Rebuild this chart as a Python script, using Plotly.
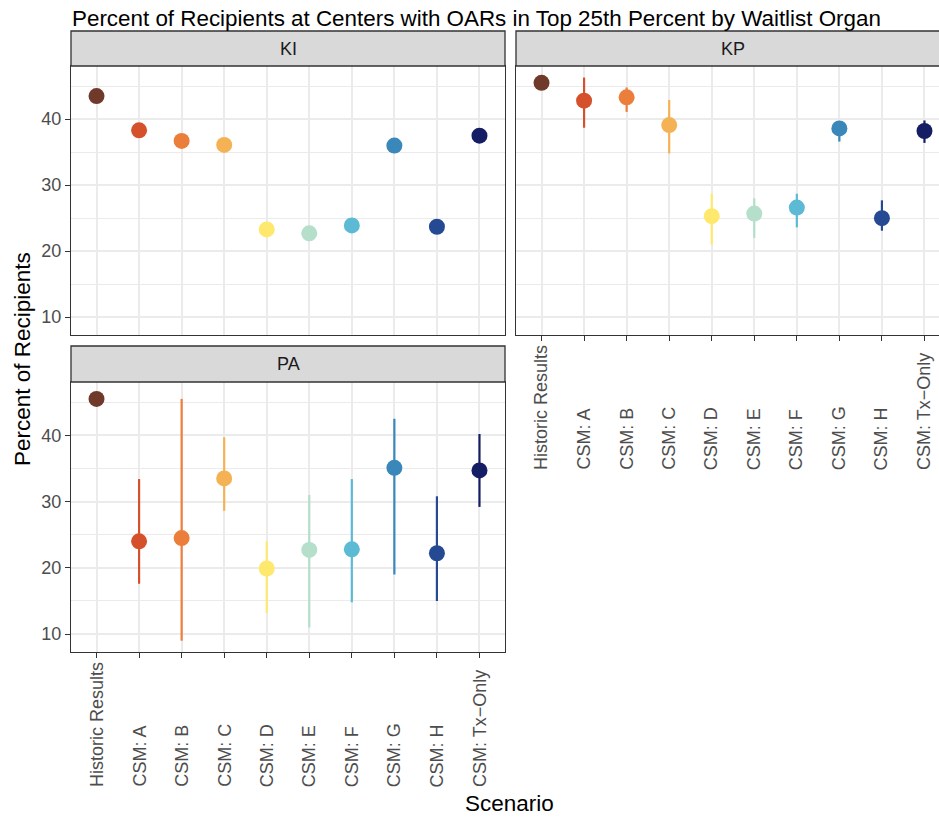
import plotly.graph_objects as go

# Scenarios on the x axis (same order in every panel)
scenarios = ["Historic Results", "CSM: A", "CSM: B", "CSM: C", "CSM: D",
             "CSM: E", "CSM: F", "CSM: G", "CSM: H", "CSM: Tx\u2212Only"]

scenario_colors = ["#6F3A2A", "#D4512B", "#EC7E3C", "#F5B255", "#FEE86D",
                   "#B5DECB", "#5CBAD4", "#3A87B9", "#254A93", "#151E64"]

# Percent of recipients (point estimate, lower and upper interval bound)
ki_pct = [43.5, 38.3, 36.7, 36.1, 23.3, 22.7, 23.9, 36.0, 23.7, 37.5]
ki_lo  = [43.5, 38.0, 36.4, 35.8, 23.0, 22.4, 23.6, 35.7, 23.4, 37.2]
ki_hi  = [43.5, 38.6, 37.0, 36.4, 23.6, 23.0, 24.2, 36.3, 24.0, 37.8]

kp_pct = [45.5, 42.8, 43.3, 39.1, 25.3, 25.7, 26.6, 38.6, 25.0, 38.2]
kp_lo  = [45.5, 38.7, 41.1, 34.8, 21.0, 22.0, 23.6, 36.6, 23.1, 36.4]
kp_hi  = [45.5, 46.3, 44.8, 42.9, 28.7, 28.0, 28.7, 39.3, 27.7, 39.8]

pa_pct = [45.5, 24.0, 24.5, 33.5, 19.9, 22.7, 22.8, 35.1, 22.2, 34.7]
pa_lo  = [45.5, 17.6,  9.0, 28.6, 13.2, 11.0, 14.8, 19.0, 15.0, 29.2]
pa_hi  = [45.5, 33.4, 45.5, 39.7, 24.0, 31.0, 33.4, 42.5, 30.8, 40.2]

y_ticks = [10, 20, 30, 40]

W, H = 939, 819
FONT = "Liberation Sans, Arial, Helvetica, sans-serif"


def px_x(p):
    return p / W


def px_y(p):
    return 1 - p / H


panels = [
    # name, values, lo, hi, xaxis, yaxis
    ("KI", ki_pct, ki_lo, ki_hi, "x", "y"),
    ("KP", kp_pct, kp_lo, kp_hi, "x2", "y2"),
    ("PA", pa_pct, pa_lo, pa_hi, "x3", "y3"),
]

fig = go.Figure()
for name, vals, lo, hi, xa, ya in panels:
    for i, sc in enumerate(scenarios):
        has_bar = hi[i] != lo[i]
        fig.add_trace(go.Scatter(
            x=[i], y=[vals[i]], xaxis=xa, yaxis=ya, mode="markers",
            marker=dict(size=16, color=scenario_colors[i], line=dict(width=0)),
            error_y=dict(type="data", symmetric=False,
                         array=[hi[i] - vals[i]], arrayminus=[vals[i] - lo[i]],
                         color=scenario_colors[i], thickness=2.2, width=0,
                         visible=has_bar),
            showlegend=False, hoverinfo="skip", cliponaxis=False,
        ))

# panel geometry (pixels)
left_x = (71, 505)
right_x = (516, 939)
top_y = (66, 335)
bot_y = (382, 652)
unit = (left_x[1] - left_x[0]) / 10.2
yr = [7.3, 48.05]

grid = "#EBEBEB"
border = "#333333"
tick_font = dict(family=FONT, size=18, color="#4D4D4D")

common_x = dict(type="linear", tickvals=list(range(len(scenarios))),
                showgrid=True, gridcolor=grid, gridwidth=1.6,
                zeroline=False, linecolor=border, linewidth=1.3,
                showticklabels=False,
                ticklen=5, tickcolor=border, tickwidth=1.2)
common_y = dict(range=yr, tickvals=y_ticks, showgrid=True, gridcolor=grid,
                gridwidth=1.6, zeroline=False, linecolor=border, linewidth=1.3,
                minor=dict(tick0=5, dtick=10, showgrid=True, gridcolor=grid,
                           gridwidth=0.8, ticks=""),
                tickfont=tick_font,
                ticklen=5, tickcolor=border, tickwidth=1.2)

fig.update_layout(
    width=W, height=H, margin=dict(l=0, r=0, t=0, b=0),
    paper_bgcolor="white", plot_bgcolor="white",
    xaxis=dict(common_x, domain=[px_x(left_x[0]), px_x(left_x[1])],
               range=[-0.6, 9.6], anchor="y", showline=True, mirror=True,
               ticks=""),
    yaxis=dict(common_y, domain=[px_y(top_y[1]), px_y(top_y[0])], anchor="x",
               showline=True, mirror=True, ticks="outside"),
    xaxis2=dict(common_x, domain=[px_x(right_x[0]), 1],
                range=[-0.6, -0.6 + (right_x[1] - right_x[0]) / unit],
                anchor="y2", showline=True, mirror=True, ticks="outside"),
    yaxis2=dict(common_y, domain=[px_y(top_y[1]), px_y(top_y[0])], anchor="x2",
                showline=True, mirror=False, showticklabels=False, ticks=""),
    xaxis3=dict(common_x, domain=[px_x(left_x[0]), px_x(left_x[1])],
                range=[-0.6, 9.6], anchor="y3", showline=True, mirror=True,
                ticks="outside"),
    yaxis3=dict(common_y, domain=[px_y(bot_y[1]), px_y(bot_y[0])], anchor="x3",
                showline=True, mirror=True, ticks="outside"),
)

# rotated scenario labels, bottom-justified under the bottom panels
for xref, bottom in (("x2", 472), ("x3", 789)):
    for i, sc in enumerate(scenarios):
        fig.add_annotation(text=sc, xref=xref, yref="paper", x=i,
                           y=px_y(bottom), textangle=-90,
                           xanchor="center", yanchor="bottom", showarrow=False,
                           font=tick_font)

# facet strips
strips = [("KI", left_x, (31, 66)), ("KP", (right_x[0], 960), (31, 66)),
          ("PA", left_x, (346, 382))]
for label, (sx0, sx1), (sy0, sy1) in strips:
    fig.add_shape(type="rect", xref="paper", yref="paper",
                  x0=px_x(sx0), x1=px_x(sx1), y0=px_y(sy1), y1=px_y(sy0),
                  fillcolor="#D9D9D9", line=dict(color=border, width=1.3),
                  layer="above")
    cx = (sx0 + sx1) / 2 if label != "KP" else sx0 + 5.1 * unit
    fig.add_annotation(text=label, xref="paper", yref="paper",
                       x=px_x(cx), y=px_y((sy0 + sy1) / 2),
                       xanchor="center", yanchor="middle", showarrow=False,
                       font=dict(family=FONT, size=18, color="#1A1A1A"))

# titles
fig.add_annotation(text="Percent of Recipients at Centers with OARs in Top 25th Percent by Waitlist Organ",
                   xref="paper", yref="paper", x=px_x(69.5), y=px_y(18),
                   xanchor="left", yanchor="middle", showarrow=False,
                   font=dict(family=FONT, size=22.4, color="black"))
fig.add_annotation(text="Percent of Recipients", xref="paper", yref="paper",
                   x=px_x(22), y=px_y(359), textangle=-90,
                   xanchor="center", yanchor="middle", showarrow=False,
                   font=dict(family=FONT, size=22.5, color="black"))
fig.add_annotation(text="Scenario", xref="paper", yref="paper",
                   x=px_x(510), y=px_y(803),
                   xanchor="center", yanchor="middle", showarrow=False,
                   font=dict(family=FONT, size=22.5, color="black"))

fig.write_html("out.html")
